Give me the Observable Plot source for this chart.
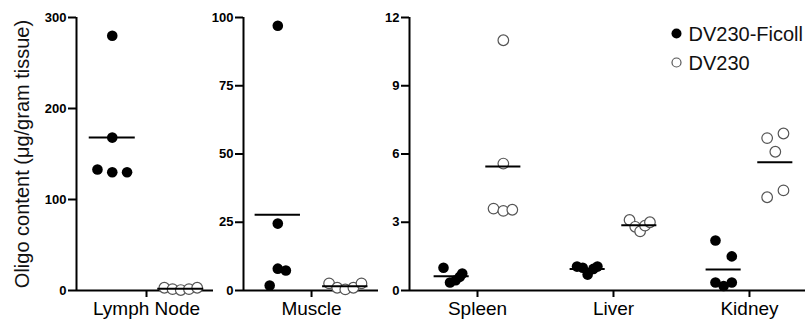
<!DOCTYPE html>
<html><head><meta charset="utf-8">
<script src="https://cdn.jsdelivr.net/npm/d3@7"></script>
<script src="https://cdn.jsdelivr.net/npm/@observablehq/plot@0.6"></script>
<style>
body{margin:0;background:#fff;}
#chart{position:relative;width:805px;height:322px;font-family:"Liberation Sans",Arial,Helvetica,sans-serif;}
#chart svg{position:absolute;top:0;overflow:visible;}
</style></head><body><div id="chart"></div>
<script>
// ---- data ----
const series = ["DV230-Ficoll", "DV230"];
const yLabel = "Oligo content (μg/gram tissue)";

const panel1Tissues = ["Lymph Node"];
const panel2Tissues = ["Muscle"];
const panel3Tissues = ["Spleen", "Liver", "Kidney"];

const panel1Ticks = [0, 100, 200, 300];
const panel2Ticks = [0, 25, 50, 75, 100];
const panel3Ticks = [0, 3, 6, 9, 12];

// values (µg/gram tissue) and within-group jitter slots
const lymphFicoll = [280, 168, 133, 130, 130];
const lymphFicollSlot = [0, 0, -1.8, 0, 1.8];
const lymphPlain = [3, 1.5, 0.5, 1.5, 3];
const lymphPlainSlot = [-2, -1, 0, 1, 2];

const muscleFicoll = [97, 24.5, 8, 7.3, 1.8];
const muscleFicollSlot = [0, 0, 0, 1, -1];
const musclePlain = [2.6, 1.0, 0.4, 1.0, 2.6];
const musclePlainSlot = [-2, -1, 0, 1, 2];

const spleenFicoll = [1.0, 0.35, 0.45, 0.6, 0.75];
const spleenFicollSlot = [-1, -0.2, 0.5, 1.0, 1.3];
const spleenPlain = [11, 5.58, 3.6, 3.5, 3.55];
const spleenPlainSlot = [0, 0, -1.2, 0, 1.1];

const liverFicoll = [1.05, 1.0, 0.7, 0.95, 1.05];
const liverFicollSlot = [-1.3, -0.6, 0, 0.7, 1.2];
const liverPlain = [3.1, 2.8, 2.6, 2.85, 3.0];
const liverPlainSlot = [-1.2, -0.5, 0.1, 0.7, 1.3];

const kidneyFicoll = [2.2, 1.5, 0.35, 0.2, 0.35];
const kidneyFicollSlot = [-1, 1, -1, 0, 1];
const kidneyPlain = [6.7, 6.9, 6.1, 4.1, 4.4];
const kidneyPlainSlot = [-1, 1, 0, -1, 1];

// ---- build ----
const slotStep = 0.06;
function build(groups, offset, half) {
  const pts = [], means = [];
  groups.forEach(([fv, fs, pv, ps], i) => {
    [[fv, fs, -1, series[0]], [pv, ps, 1, series[1]]].forEach(([vals, slots, sgn, s]) => {
      const c = i + sgn * offset;
      vals.forEach((v, k) => pts.push({x: c + slots[k] * slotStep, y: v, series: s}));
      means.push({x1: c - half, x2: c + half, y: d3.mean(vals)});
    });
  });
  return {pts, means};
}

const font = '"Liberation Sans",Arial,Helvetica,sans-serif';
function panel({left, width, mL, mR, xDomain, yMax, ticks, names, groups, offset, half, extra = []}) {
  const {pts, means} = build(groups, offset, half);
  const p = Plot.plot({
    width, height: 322,
    marginLeft: mL, marginRight: mR, marginTop: 17, marginBottom: 32,
    style: {background: "transparent", fontFamily: font, color: "black", overflow: "visible"},
    x: {domain: xDomain, axis: null},
    y: {domain: [0, yMax], axis: null},
    marks: [
      Plot.axisY({ticks, label: null, tickSize: 8, tickPadding: 2, fontSize: 13, fontWeight: "bold", strokeWidth: 2, tickFormat: d => String(d)}),
      Plot.axisX({ticks: names.map((_, i) => i), label: null, tickFormat: i => names[i], tickSize: 7, tickPadding: 4, fontSize: 19, strokeWidth: 2}),
      Plot.ruleX([xDomain[0]], {stroke: "black", strokeWidth: 2}),
      Plot.ruleY([0], {stroke: "black", strokeWidth: 2}),
      Plot.dot(pts.filter(d => d.series === series[0]), {x: "x", y: "y", r: 5.3, fill: "black"}),
      Plot.dot(pts.filter(d => d.series === series[1]), {x: "x", y: "y", r: 5.3, fill: "white", stroke: "#555", strokeWidth: 1.2}),
      Plot.ruleY(means, {y: "y", x1: "x1", x2: "x2", stroke: "black", strokeWidth: 2}),
      ...extra
    ]
  });
  p.style.left = left + "px";
  document.getElementById("chart").appendChild(p);
}

panel({
  left: 0, width: 215, mL: 76, mR: 2, xDomain: [-0.511, 0.489], yMax: 300, ticks: panel1Ticks,
  names: panel1Tissues, offset: 0.25, half: 0.168,
  groups: [[lymphFicoll, lymphFicollSlot, lymphPlain, lymphPlainSlot]],
  extra: [Plot.text([yLabel], {frameAnchor: "left", dx: -54, rotate: -90, textAnchor: "middle", lineAnchor: "middle", fontSize: 20, fill: "#111", text: d => d})]
});
panel({
  left: 215, width: 168, mL: 28, mR: 5, xDomain: [-0.504, 0.496], yMax: 100, ticks: panel2Ticks,
  names: panel2Tissues, offset: 0.25, half: 0.168,
  groups: [[muscleFicoll, muscleFicollSlot, musclePlain, musclePlainSlot]]
});
panel({
  left: 380, width: 425, mL: 29, mR: 0, xDomain: [-0.5, 2.412], yMax: 12, ticks: panel3Ticks,
  names: panel3Tissues, offset: 0.19, half: 0.129,
  groups: [
    [spleenFicoll, spleenFicollSlot, spleenPlain, spleenPlainSlot],
    [liverFicoll, liverFicollSlot, liverPlain, liverPlainSlot],
    [kidneyFicoll, kidneyFicollSlot, kidneyPlain, kidneyPlainSlot]
  ],
  extra: [
    Plot.dot([series[0]], {frameAnchor: "top-left", dx: 267, dy: 16, r: 5, fill: "black"}),
    Plot.dot([series[1]], {frameAnchor: "top-left", dx: 267, dy: 45, r: 4.5, fill: "white", stroke: "#555", strokeWidth: 1.2}),
    Plot.text([series[0]], {frameAnchor: "top-left", dx: 279, dy: 17, text: d => d, textAnchor: "start", lineAnchor: "middle", fontSize: 20, fill: "#111"}),
    Plot.text([series[1]], {frameAnchor: "top-left", dx: 279, dy: 46, text: d => d, textAnchor: "start", lineAnchor: "middle", fontSize: 20, fill: "#111"})
  ]
});
</script></body></html>
